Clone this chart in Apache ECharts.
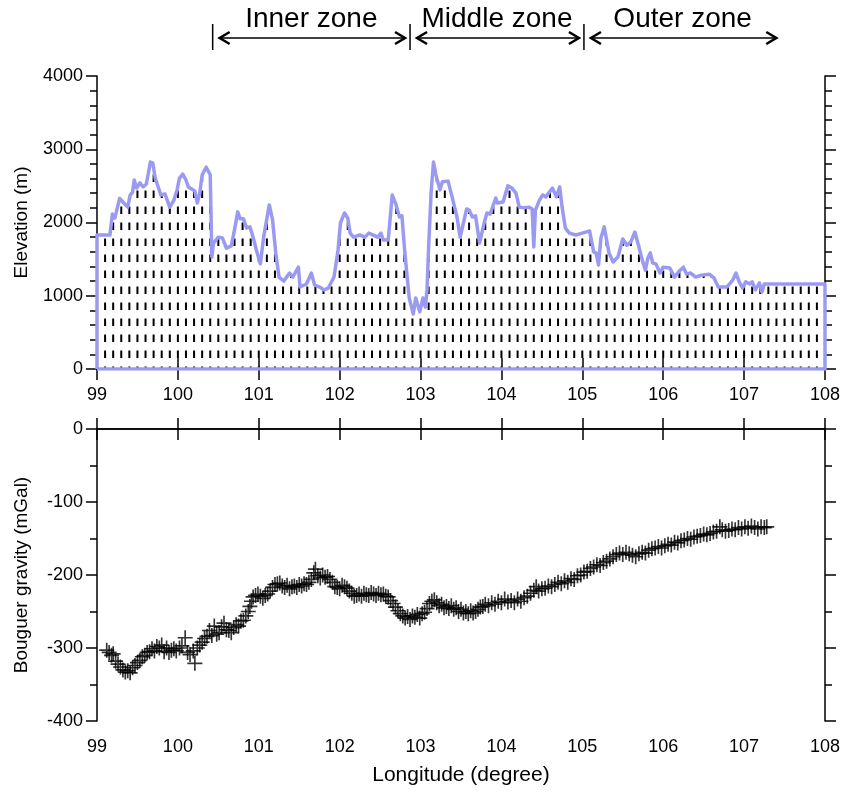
<!DOCTYPE html>
<html>
<head>
<meta charset="utf-8">
<script src="https://cdn.jsdelivr.net/npm/echarts@6/dist/echarts.min.js"></script>
<style>
html,body{margin:0;padding:0;background:#fff;}
#main{width:843px;height:795px;}
</style>
</head>
<body>
<div id="main"></div>
<script>
// 高程剖面 (经度, 米)
var elevLon = [99.00,99.16,99.19,99.22,99.28,99.32,99.38,99.41,99.44,99.46,99.49,99.53,99.57,99.61,99.66,99.69,99.72,99.74,99.79,99.84,
  99.90,99.95,99.99,100.02,100.06,100.10,100.13,100.21,100.24,100.27,100.30,100.35,100.40,100.42,100.44,100.50,100.55,100.60,100.66,100.70,
  100.74,100.77,100.81,100.85,100.89,100.93,100.97,101.02,101.06,101.13,101.17,101.21,101.25,101.31,101.38,101.42,101.49,101.51,101.59,101.65,
  101.69,101.75,101.81,101.86,101.93,101.98,102.01,102.06,102.10,102.13,102.17,102.25,102.31,102.36,102.47,102.51,102.54,102.60,102.65,102.69,
  102.74,102.77,102.80,102.83,102.86,102.91,102.94,102.99,103.03,103.06,103.08,103.10,103.13,103.16,103.19,103.24,103.27,103.34,103.39,103.45,
  103.49,103.53,103.57,103.60,103.64,103.68,103.73,103.78,103.82,103.86,103.93,103.95,104.02,104.08,104.13,104.18,104.22,104.28,104.34,104.38,
  104.40,104.42,104.47,104.51,104.55,104.63,104.68,104.72,104.75,104.79,104.84,104.92,105.00,105.09,105.14,105.17,105.20,105.23,105.27,105.33,
  105.38,105.44,105.50,105.55,105.60,105.65,105.70,105.74,105.78,105.81,105.84,105.87,105.91,105.96,106.00,106.08,106.14,106.20,106.25,106.29,
  106.34,106.40,106.47,106.57,106.63,106.68,106.73,106.79,106.86,106.90,106.94,106.98,107.02,107.07,107.10,107.14,107.19,107.22,107.25,108.00];
var elevVal = [1830,1830,2115,2060,2330,2280,2210,2375,2415,2580,2470,2540,2485,2525,2825,2810,2605,2540,2375,2390,
  2210,2305,2445,2605,2660,2580,2485,2430,2265,2400,2650,2755,2650,1530,1720,1800,1790,1650,1680,1900,
  2145,2050,2050,1925,1940,1800,1625,1435,1800,2240,2035,1585,1255,1200,1310,1255,1390,1120,1160,1310,
  1145,1120,1080,1105,1255,1625,1995,2130,2060,1855,1800,1830,1800,1855,1800,1855,1760,1760,2375,2265,
  2075,2090,1665,1310,970,750,970,780,970,845,1080,1665,2400,2825,2650,2445,2555,2565,2350,2075,
  1800,1995,2185,2170,2075,2090,1720,1965,2130,2115,2335,2265,2280,2500,2470,2400,2210,2200,2210,2185,
  1665,2170,2305,2375,2350,2470,2350,2485,2210,1925,1855,1830,1855,1885,1600,1585,1420,1790,1940,1585,
  1460,1530,1775,1690,1735,1870,1665,1490,1350,1515,1585,1445,1435,1310,1390,1380,1255,1340,1390,1295,
  1310,1255,1280,1295,1240,1120,1120,1120,1215,1310,1190,1105,1190,1160,1190,1080,1175,1050,1160,1160];

// 布格重力 (经度, mGal)
var gravLon = [99.12,99.15,99.18,99.20,99.23,99.26,99.29,99.32,99.35,99.38,99.41,99.44,99.47,99.50,99.53,99.56,99.59,99.62,99.65,99.68,
  99.71,99.74,99.77,99.80,99.83,99.86,99.89,99.92,99.95,99.98,100.02,100.05,100.09,100.12,100.15,100.19,100.21,100.24,100.27,100.30,
  100.33,100.36,100.39,100.42,100.45,100.48,100.51,100.54,100.57,100.60,100.63,100.66,100.69,100.72,100.75,100.78,100.81,100.84,100.87,100.89,
  100.91,100.93,100.96,100.99,101.02,101.05,101.08,101.11,101.14,101.17,101.20,101.23,101.26,101.29,101.32,101.35,101.38,101.41,101.44,101.47,
  101.50,101.53,101.56,101.59,101.62,101.65,101.68,101.70,101.73,101.76,101.79,101.82,101.85,101.88,101.91,101.94,101.97,102.00,102.03,102.06,
  102.09,102.12,102.15,102.18,102.21,102.24,102.27,102.30,102.33,102.36,102.39,102.42,102.45,102.48,102.51,102.54,102.57,102.60,102.63,102.66,
  102.69,102.72,102.75,102.78,102.81,102.84,102.87,102.90,102.93,102.96,102.99,103.02,103.05,103.08,103.11,103.14,103.17,103.20,103.23,103.26,
  103.29,103.32,103.35,103.38,103.41,103.44,103.47,103.50,103.53,103.56,103.59,103.62,103.65,103.68,103.71,103.74,103.77,103.80,103.84,103.88,
  103.92,103.96,104.00,104.04,104.08,104.12,104.16,104.20,104.24,104.28,104.32,104.36,104.40,104.43,104.46,104.50,104.54,104.58,104.62,104.66,
  104.70,104.74,104.78,104.82,104.86,104.90,104.94,104.98,105.02,105.06,105.10,105.14,105.18,105.22,105.26,105.30,105.34,105.38,105.42,105.46,
  105.50,105.54,105.58,105.62,105.66,105.70,105.74,105.78,105.82,105.86,105.90,105.94,105.98,106.02,106.06,106.10,106.14,106.18,106.22,106.26,
  106.30,106.34,106.38,106.42,106.46,106.50,106.54,106.58,106.62,106.66,106.70,106.73,106.77,106.81,106.85,106.89,106.93,106.97,107.01,107.05,
  107.09,107.13,107.17,107.21,107.25,107.28];
var gravVal = [-303,-306,-310,-308,-318,-322,-326,-330,-333,-331,-334,-327,-324,-320,-317,-312,-310,-306,-305,-301,
  -304,-298,-300,-296,-305,-300,-306,-303,-301,-304,-300,-297,-286,-306,-309,-304,-321,-300,-296,-292,
  -287,-284,-276,-283,-270,-281,-279,-271,-266,-275,-276,-279,-272,-268,-270,-263,-262,-256,-250,-243,
  -236,-230,-228,-226,-229,-232,-228,-226,-222,-217,-213,-212,-211,-215,-217,-214,-219,-216,-215,-217,
  -213,-215,-212,-213,-210,-206,-197,-192,-201,-204,-200,-203,-202,-206,-210,-216,-217,-219,-214,-216,
  -218,-222,-225,-229,-228,-226,-229,-225,-227,-228,-224,-226,-228,-225,-227,-226,-229,-230,-235,-239,
  -244,-249,-253,-256,-259,-257,-261,-256,-258,-254,-259,-253,-251,-246,-239,-236,-234,-238,-242,-240,
  -245,-243,-246,-242,-247,-245,-250,-247,-252,-250,-253,-249,-252,-250,-247,-244,-243,-240,-242,-238,
  -240,-236,-238,-233,-237,-235,-238,-233,-236,-231,-229,-225,-221,-216,-222,-219,-218,-215,-216,-213,
  -210,-212,-208,-210,-205,-206,-201,-200,-196,-195,-191,-189,-186,-187,-183,-181,-178,-175,-172,-170,
  -172,-169,-171,-173,-175,-171,-169,-170,-166,-164,-163,-161,-163,-160,-158,-159,-155,-156,-153,-152,
  -150,-151,-148,-147,-146,-144,-145,-143,-141,-140,-134,-138,-140,-139,-137,-138,-135,-137,-134,-136,
  -133,-135,-137,-134,-135,-134];

// 分区 (起止经度)
var zoneNames = ['Inner zone', 'Middle zone', 'Outer zone'];
var zoneStart = [100.43, 102.87, 105.02];
var zoneEnd = [102.87, 105.02, 107.46];

var font = 'Liberation Sans, Arial, Helvetica, sans-serif';

// 竖虚线的顶部取自高程剖面
function elevAt(lon) {
  for (var i = 1; i < elevLon.length; i++) {
    if (lon <= elevLon[i]) {
      var t = (lon - elevLon[i - 1]) / (elevLon[i] - elevLon[i - 1]);
      return elevVal[i - 1] + t * (elevVal[i] - elevVal[i - 1]);
    }
  }
  return elevVal[elevVal.length - 1];
}

var profile = [[elevLon[0], 0]];
for (var i = 0; i < elevLon.length; i++) profile.push([elevLon[i], elevVal[i]]);
profile.push([elevLon[elevLon.length - 1], 0]);
profile.push([elevLon[0], 0]);

var hatch = [];
for (var k = 1; k < 90; k++) {
  var x = 99 + k / 10;
  hatch.push([x, elevAt(x)]);
}

var gravity = gravLon.map(function (v, i) { return [v, gravVal[i]]; });

function plain(v) { return String(v); }

function xAxisOf(grid, pos, showLabel, name) {
  return {
    type: 'value', gridIndex: grid, position: pos, min: 99, max: 108, interval: 1,
    axisLine: { lineStyle: { color: '#000', width: 1.5 } },
    axisTick: { inside: false, length: 11, lineStyle: { color: '#000', width: 1.5 } },
    axisLabel: { show: showLabel, margin: 17, color: '#000', fontSize: 18, fontFamily: font, formatter: plain },
    splitLine: { show: false },
    name: name || '', nameLocation: 'middle', nameGap: 44,
    nameTextStyle: { color: '#000', fontSize: 21, fontFamily: font }
  };
}

function yAxisOf(grid, pos, min, max, interval, minor, showLabel, name) {
  return {
    type: 'value', gridIndex: grid, position: pos, min: min, max: max, interval: interval,
    axisLine: { lineStyle: { color: '#000', width: 1.5 } },
    axisTick: { inside: false, length: 11, lineStyle: { color: '#000', width: 1.5 } },
    minorTick: { show: true, splitNumber: minor, length: 7, lineStyle: { color: '#000', width: 1.5 } },
    axisLabel: { show: showLabel, margin: 14, color: '#000', fontSize: 18, fontFamily: font, formatter: plain },
    splitLine: { show: false },
    name: name || '', nameLocation: 'middle', nameGap: 66,
    nameTextStyle: { color: '#000', fontSize: 19, fontFamily: font }
  };
}

var myChart = echarts.init(document.getElementById('main'));

var option = {
  animation: false,
  backgroundColor: '#fff',
  grid: [
    { left: 97, width: 730, top: 76, height: 293 },
    { left: 97, width: 730, top: 429, height: 292 }
  ],
  xAxis: [
    xAxisOf(0, 'bottom', true),
    xAxisOf(0, 'top', false),
    xAxisOf(1, 'bottom', true, 'Longitude (degree)'),
    xAxisOf(1, 'top', false)
  ],
  yAxis: [
    yAxisOf(0, 'left', 0, 4000, 1000, 5, true, 'Elevation (m)'),
    yAxisOf(0, 'right', 0, 4000, 1000, 5, false),
    yAxisOf(1, 'left', -400, 0, 100, 2, true, 'Bouguer gravity (mGal)'),
    yAxisOf(1, 'right', -400, 0, 100, 2, false)
  ],
  series: [
    {
      // 地形下方的竖虚线填充
      type: 'custom',
      xAxisIndex: 0, yAxisIndex: 0,
      data: hatch,
      renderItem: function (params, api) {
        var p0 = api.coord([api.value(0), 0]);
        var p1 = api.coord([api.value(0), api.value(1)]);
        return {
          type: 'line',
          shape: { x1: p0[0], y1: p0[1], x2: p1[0], y2: p1[1] },
          style: { stroke: '#000', lineWidth: 2, lineDash: [7.5, 8.5], lineDashOffset: 5 }
        };
      }
    },
    {
      type: 'line',
      xAxisIndex: 0, yAxisIndex: 0,
      data: profile,
      showSymbol: false,
      lineStyle: { color: '#9a9af2', width: 3.5, join: 'round' },
      z: 3
    },
    {
      type: 'scatter',
      xAxisIndex: 2, yAxisIndex: 2,
      data: gravity,
      symbol: 'path://M0,4.45H10V5.55H0ZM4.45,0H5.55V10H4.45Z',
      symbolSize: 15,
      itemStyle: { color: '#000' }
    }
  ]
};

myChart.setOption(option);

// 顶部分区箭头
var gfx = [];
var yArrow = 38;
zoneNames.forEach(function (nm, i) {
  var xs = myChart.convertToPixel({ xAxisIndex: 1 }, zoneStart[i]);
  var xe = myChart.convertToPixel({ xAxisIndex: 1 }, zoneEnd[i]);
  var a = xs + 6, b = xe - 4;
  gfx.push({ type: 'line', shape: { x1: xs, y1: 24, x2: xs, y2: 50 }, style: { stroke: '#000', lineWidth: 1.5 } });
  gfx.push({ type: 'line', shape: { x1: a, y1: yArrow, x2: b, y2: yArrow }, style: { stroke: '#000', lineWidth: 1.5 } });
  gfx.push({ type: 'polyline', shape: { points: [[a + 11, yArrow - 6], [a + 1, yArrow], [a + 11, yArrow + 6]] }, style: { stroke: '#000', fill: null, lineWidth: 2.5 } });
  gfx.push({ type: 'polyline', shape: { points: [[b - 11, yArrow - 6], [b - 1, yArrow], [b - 11, yArrow + 6]] }, style: { stroke: '#000', fill: null, lineWidth: 2.5 } });
  gfx.push({
    type: 'text', x: (xs + xe) / 2, y: 19,
    style: { text: nm, fill: '#000', font: '28px ' + font, textAlign: 'center', textVerticalAlign: 'middle' }
  });
});
myChart.setOption({ graphic: gfx });
</script>
</body>
</html>
